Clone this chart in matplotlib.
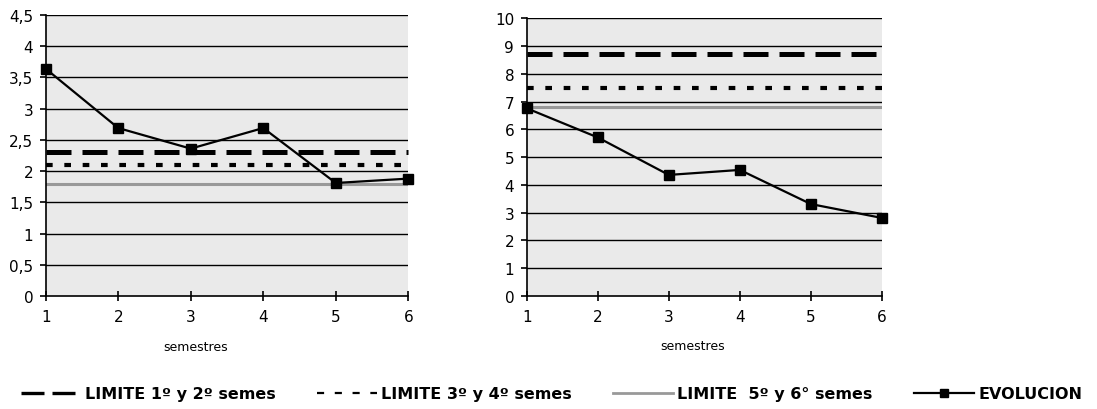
import matplotlib
matplotlib.use("Agg")
import matplotlib.pyplot as plt
from matplotlib.lines import Line2D

# Semesters on the x axis
semestres = [1, 2, 3, 4, 5, 6]

# Left panel: evolution and limits
evol_izq = [3.64, 2.69, 2.36, 2.69, 1.81, 1.88]
lim_izq = {"12": 2.3, "34": 2.1, "56": 1.8}
yticks_izq = [0, 0.5, 1, 1.5, 2, 2.5, 3, 3.5, 4, 4.5]
ylabels_izq = ["0", "0,5", "1", "1,5", "2", "2,5", "3", "3,5", "4", "4,5"]

# Right panel: evolution and limits
evol_der = [6.76, 5.71, 4.36, 4.54, 3.31, 2.81]
lim_der = {"12": 8.7, "34": 7.5, "56": 6.8}
yticks_der = list(range(0, 11))
ylabels_der = [str(v) for v in yticks_der]

leyenda = ["LIMITE 1º y 2º semes", "LIMITE 3º y 4º semes",
           "LIMITE  5º y 6° semes", "EVOLUCION"]

plt.rcParams["font.family"] = ["DejaVu Sans"]

W, H = 1097, 410
fig = plt.figure(figsize=(W / 100, H / 100), dpi=100)

def px_axes(x0, x1, y0, y1):
    return fig.add_axes([x0 / W, 1 - y1 / H, (x1 - x0) / W, (y1 - y0) / H])

ax1 = px_axes(45.7, 408.3, 16, 297)
ax2 = px_axes(526.7, 882, 19.3, 297)

GRAY = "#999999"

def draw(ax, evol, lim, yt, yl, ymax, label_x):
    ax.set_facecolor("#EAEAEA")
    ax.set_xlim(1, 6)
    ax.set_ylim(0, ymax)
    for y in yt[1:]:
        ax.axhline(y, color="black", lw=1.0, zorder=1)
    ax.axhline(lim["12"], color="black", lw=3.6, dashes=(5, 2.2),
               zorder=2, clip_on=False)
    ax.axhline(lim["34"], color="black", lw=3.0, dashes=(1.6, 2.8),
               zorder=2, clip_on=False)
    ax.axhline(lim["56"], color=GRAY, lw=2.2, zorder=2)
    ax.plot(semestres, evol, color="black", lw=1.6, marker="s",
            markersize=7.5, zorder=4, clip_on=False)
    for s in ["top", "right"]:
        ax.spines[s].set_visible(False)
    for s in ["left", "bottom"]:
        ax.spines[s].set_color("black")
        ax.spines[s].set_linewidth(1.2)
        ax.spines[s].set_zorder(5)
    ax.set_yticks(yt)
    ax.set_yticklabels(yl)
    ax.set_xticks(semestres)
    ax.tick_params(axis="y", direction="out", length=4, width=1.2,
                   labelsize=11, pad=5)
    ax.tick_params(axis="x", direction="inout", length=7, width=1.2,
                   labelsize=11, pad=6)
    ax.set_xlabel("semestres", fontsize=9)
    ax.xaxis.set_label_coords(label_x, -0.155)

draw(ax1, evol_izq, lim_izq, yticks_izq, ylabels_izq, 4.5, 0.414)
draw(ax2, evol_der, lim_der, yticks_der, ylabels_der, 10, 0.468)

handles = [
    Line2D([], [], color="black", lw=2.4, dashes=(6.9, 2.4)),
    Line2D([], [], color="black", lw=1.6, dashes=(3.2, 4.8)),
    Line2D([], [], color=GRAY, lw=2.0),
    Line2D([], [], color="black", lw=1.6, marker="s", markersize=6),
]
fig.legend(handles, leyenda, loc="center left",
           bbox_to_anchor=(21 / W, 1 - 395 / H), ncol=4, frameon=False,
           prop={"weight": "bold", "size": 11.5}, handlelength=3.75,
           handletextpad=0.25, columnspacing=2.6, borderpad=0,
           borderaxespad=0)

fig.savefig("out.png", dpi=100)
